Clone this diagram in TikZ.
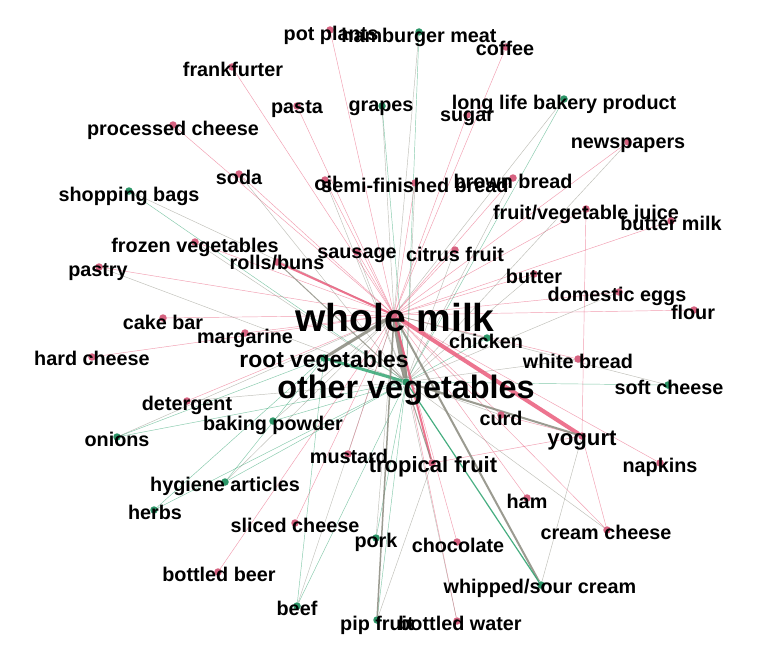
\documentclass[tikz,border=0pt]{standalone}
\usepackage{fontspec}
\newfontfamily\lblfont{Liberation Sans}
\usepackage{tikz}
\pgfdeclarelayer{backdrop}
\pgfdeclarelayer{edges}
\pgfsetlayers{backdrop,edges,main}
\definecolor{dotpink}{RGB}{214,98,128}
\definecolor{dotgreen}{RGB}{44,150,104}
\definecolor{edgepink}{RGB}{234,92,124}
\definecolor{edgegreen}{RGB}{52,166,116}
\definecolor{edgegray}{RGB}{138,138,126}
\tikzset{
  pinkdot/.style   = {circle,fill=dotpink,inner sep=0pt,minimum size=7.5pt},
  greendot/.style  = {circle,fill=dotgreen,inner sep=0pt,minimum size=7.5pt},
  itemtext/.style  = {font=\lblfont\bfseries\fontsize{#1}{#1}\selectfont,inner sep=0pt,text=black},
  itemtext/.default = 19.8,
  pinkedge/.style  = {edgepink,line width=0.45pt,opacity=0.6},
  grayedge/.style  = {edgegray,line width=0.45pt,opacity=0.55},
  greenedge/.style = {edgegreen,line width=0.45pt,opacity=0.6}
}
% dot, then its text: [size]{name}{x}{y}{dot style}{text x}{text y}{text}
\newcommand{\grocery}[8][19.8]{%
  \node[#5] (#2) at (#3,#4) {};
  \node[itemtext=#1] (#2-t) at (#6,#7) {#8};
}

\begin{document}
\begin{tikzpicture}[x=1pt,y=-1pt]
  \begin{pgfonlayer}{backdrop}
    \fill[white] (0,0) rectangle (768,661);
  \end{pgfonlayer}
  \useasboundingbox (0,0) rectangle (768,661);

  % hubs
  \grocery[39]{wm}{394}{315}{pinkdot}{395}{318}{whole milk}
  \grocery[32.4]{ov}{406}{382}{greendot}{406}{390}{other vegetables}
  \grocery[22.9]{rv}{324}{358}{greendot}{324}{362}{root vegetables}
  \grocery[22.2]{yo}{582}{436}{pinkdot}{582}{441}{yogurt}
  \grocery[22]{tf}{432}{463}{pinkdot}{433}{467}{tropical fruit}

  % top
  \grocery{pp}{330}{30}{pinkdot}{331}{35}{pot plants}
  \grocery{hm}{419}{32}{greendot}{419}{37}{hamburger meat}
  \grocery{co}{506}{47}{pinkdot}{505}{48}{coffee}
  \grocery{fr}{232}{67}{pinkdot}{233}{69}{frankfurter}
  \grocery{pa}{297}{106}{pinkdot}{297}{109}{pasta}
  \grocery{gr}{382}{106}{greendot}{381}{108}{grapes}
  \grocery{ll}{564}{99}{greendot}{564}{104}{long life bakery product}
  \grocery{su}{467}{115}{pinkdot}{467}{118}{sugar}
  \grocery{pc}{173}{125}{pinkdot}{173}{130}{processed cheese}
  \grocery{np}{628}{142}{pinkdot}{628}{145}{newspapers}
  \grocery{so}{239}{174}{pinkdot}{239}{177}{soda}
  \grocery{oi}{325}{180}{pinkdot}{326}{183}{oil}
  \grocery{sf}{415}{183}{pinkdot}{415}{185}{semi-finished bread}
  \grocery{bb}{513}{178}{pinkdot}{513}{181}{brown bread}
  \grocery{sb}{129}{191}{greendot}{129}{196}{shopping bags}
  \grocery{fj}{586}{209}{pinkdot}{586}{214}{fruit/vegetable juice}
  \grocery{bm}{671}{221}{pinkdot}{671}{223}{butter milk}

  % middle
  \grocery{fv}{195}{242}{pinkdot}{195}{247}{frozen vegetables}
  \grocery{rb}{277}{262}{pinkdot}{277}{263}{rolls/buns}
  \grocery{sa}{357}{252}{pinkdot}{357}{255}{sausage}
  \grocery{cf}{455}{250}{pinkdot}{455}{254}{citrus fruit}
  \grocery{pt}{99}{267}{pinkdot}{98}{272}{pastry}
  \grocery{bu}{534}{274}{pinkdot}{534}{276}{butter}
  \grocery{de}{619}{292}{pinkdot}{617}{296}{domestic eggs}
  \grocery{fl}{694}{310}{pinkdot}{693}{312}{flour}
  \grocery{cb}{163}{318}{pinkdot}{163}{322}{cake bar}
  \grocery{ma}{245}{333}{pinkdot}{245}{338}{margarine}
  \grocery{ch}{487}{338}{greendot}{486}{341}{chicken}
  \grocery{hc}{92}{357}{pinkdot}{92}{358}{hard cheese}
  \grocery{wb}{578}{359}{pinkdot}{578}{361}{white bread}
  \grocery{sc}{668}{385}{greendot}{669}{387}{soft cheese}
  \grocery{dt}{187}{401}{pinkdot}{187}{405}{detergent}
  \grocery{cu}{501}{415}{pinkdot}{501}{418}{curd}
  \grocery{bp}{273}{421}{greendot}{273}{425}{baking powder}
  \grocery{on}{117}{437}{greendot}{117}{439}{onions}

  % bottom
  \grocery{mu}{348}{454}{pinkdot}{349}{456}{mustard}
  \grocery{nk}{660}{463}{pinkdot}{660}{467}{napkins}
  \grocery{ha}{225}{482}{greendot}{225}{486}{hygiene articles}
  \grocery{hmx}{527}{498}{pinkdot}{527}{501}{ham}
  \grocery{he}{154}{510}{greendot}{155}{512}{herbs}
  \grocery{sl}{295}{523}{pinkdot}{295}{525}{sliced cheese}
  \grocery{cc}{607}{530}{pinkdot}{606}{532}{cream cheese}
  \grocery{pk}{376}{538}{greendot}{376}{542}{pork}
  \grocery{cho}{457}{542}{pinkdot}{458}{545}{chocolate}
  \grocery{bbe}{218}{572}{pinkdot}{219}{574}{bottled beer}
  \grocery{ws}{541}{585}{greendot}{540}{588}{whipped/sour cream}
  \grocery{be}{297}{606}{greendot}{297}{608}{beef}
  \grocery{pf}{377}{620}{greendot}{377}{625}{pip fruit}
  \grocery{bw}{457}{621}{pinkdot}{460}{623}{bottled water}

  \begin{pgfonlayer}{edges}
    % thin rules
    \foreach \n in {pp,co,fr,pa,su,pc,np,so,oi,sf,bb,fj,bm,fv,sa,cf,pt,bu,de,fl,
                    cb,ma,hc,wb,dt,cu,mu,nk,hmx,sl,cc,cho,bbe,bw}
      \draw[pinkedge] (wm) -- (\n);
    \foreach \n in {hm,gr,ll,sb,ch,sc,bp,on,ha,pk,be}
      \draw[grayedge] (wm) -- (\n);
    \foreach \n in {hm,gr,ll,sb,ch,sc,bp,on,ha,he,pk,be,pf}
      \draw[greenedge] (ov) -- (\n);
    \foreach \n in {so,pt,fv,sa,cf,bu,de,np,bb,sf,oi,dt,wb,cc,cu,bw}
      \draw[grayedge] (ov) -- (\n);
    \foreach \n in {on,he,be,ha}
      \draw[greenedge] (rv) -- (\n);
    \foreach \n in {tf,cc,cu,fj}
      \draw[pinkedge] (yo) -- (\n);
    \draw[grayedge] (yo) -- (ws);
    \draw[grayedge] (tf) -- (pf);
    % strong rules
    \draw[grayedge,line width=5pt,opacity=0.85]  (wm) -- (ov);
    \draw[pinkedge,line width=4pt,opacity=0.85]  (wm) -- (yo);
    \draw[grayedge,line width=3pt,opacity=0.85]  (wm) -- (rv);
    \draw[greenedge,line width=3pt,opacity=0.85] (ov) -- (rv);
    \draw[pinkedge,line width=2pt,opacity=0.85]  (wm) -- (rb);
    \draw[pinkedge,line width=2pt,opacity=0.85]  (wm) -- (tf);
    \draw[grayedge,line width=2pt,opacity=0.85]  (ov) -- (yo);
    \draw[grayedge,line width=2pt,opacity=0.85]  (wm) -- (ws);
    \draw[greenedge,line width=1.2pt,opacity=0.9] (ov) -- (ws);
    \draw[grayedge,line width=1.5pt,opacity=0.85] (wm) -- (pf);
    \draw[grayedge,line width=1pt,opacity=0.8]   (ov) -- (tf);
    \draw[grayedge,line width=1pt,opacity=0.8]   (ov) -- (rb);
  \end{pgfonlayer}
\end{tikzpicture}
\end{document}
